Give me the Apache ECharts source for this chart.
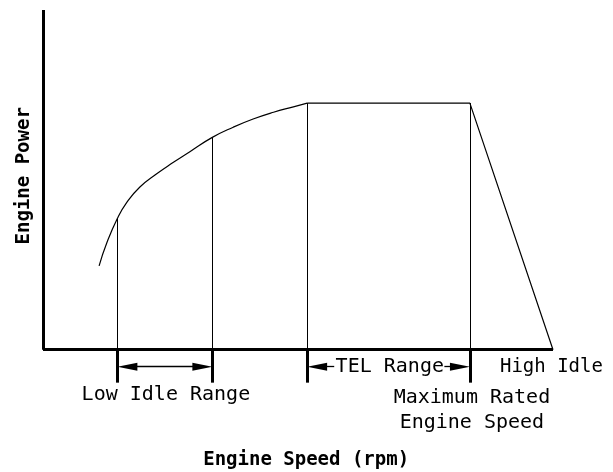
<!DOCTYPE html>
<html>
<head>
<meta charset="utf-8">
<script src="https://cdn.jsdelivr.net/npm/echarts@6/dist/echarts.min.js"></script>
<style>
html,body{margin:0;padding:0;background:#fff;}
#main{width:613px;height:472px;}
</style>
</head>
<body>
<div id="main"></div>
<script>
// power curve (relative units, 0-100 on both axes)
var curveSpeed = [11.0, 12.5, 14.6, 16.4, 19.0, 22.3, 25.5, 28.8, 33.2, 37.3, 41.2, 45.2, 49.1, 51.8];
var curvePower = [24.7, 31.4, 38.7, 43.3, 47.9, 51.8, 55.1, 58.3, 62.5, 65.5, 67.9, 69.9, 71.5, 72.6];
// flat top + governor droop to high idle
var govSpeed = [51.8, 83.7, 100];
var govPower = [72.6, 72.6, 0];
// vertical marker lines
var markSpeeds = [14.6, 33.2, 51.8, 83.7];
var markPower = [38.7, 62.5, 72.6, 72.6];

var chart = echarts.init(document.getElementById('main'));

var txtFont = 'DejaVu Sans Mono';
var tip = 1.95;     // half arrow head, in speed units
var tickLen = 9.7;  // below-axis tick, in power units
var arrowY = -5;

function pairs(xs, ys) {
  return xs.map(function (x, i) { return [x, ys[i]]; });
}

function seg(a, b, style, s0, s1) {
  return [
    { coord: a, symbol: s0 || 'none', lineStyle: style },
    { coord: b, symbol: s1 || 'none' }
  ];
}

var thick = { color: '#000', width: 3, type: 'solid' };
var thin = { color: '#000', width: 1, type: 'solid' };
var arw = { color: '#000', width: 1.3, type: 'solid' };

var lines = [
  seg([0, 0], [0, 100], thick),
  seg([0, 0], [100, 0], thick)
];
markSpeeds.forEach(function (x, i) {
  lines.push(seg([x, markPower[i]], [x, 0], thin));
  lines.push(seg([x, 0], [x, -tickLen], thick));
});
lines.push(seg([markSpeeds[0] + tip, arrowY], [markSpeeds[1] - tip, arrowY], arw, 'triangle', 'triangle'));
lines.push(seg([markSpeeds[2] + 5.3, arrowY], [markSpeeds[2] + tip, arrowY], arw, 'none', 'triangle'));
lines.push(seg([markSpeeds[3] - 5.0, arrowY], [markSpeeds[3] - tip, arrowY], arw, 'none', 'triangle'));

var nameStyle = { fontFamily: txtFont, fontWeight: 'bold', fontSize: 19 };

chart.setOption({
  animation: false,
  grid: { left: 2.2, right: 3.9, top: 3.2, bottom: 0 },
  xAxis: { type: 'value', min: -8, max: 111, show: false },
  yAxis: { type: 'value', min: -36, max: 102, show: false },
  series: [
    {
      type: 'line',
      data: pairs(curveSpeed, curvePower),
      smooth: 0.5,
      symbol: 'none',
      lineStyle: { color: '#000', width: 1.2 }
    },
    {
      type: 'line',
      data: pairs(govSpeed, govPower),
      symbol: 'none',
      lineStyle: { color: '#000', width: 1.2 },
      markLine: {
        silent: true,
        symbolSize: [8, 20],
        label: { show: false },
        itemStyle: { color: '#000' },
        data: lines
      },
      markPoint: {
        silent: true,
        symbol: 'circle',
        symbolSize: 0,
        label: {
          show: true,
          position: 'inside',
          fontFamily: txtFont,
          fontSize: 20,
          color: '#000',
          lineHeight: 25
        },
        data: [
          { coord: [24.1, -13.4], label: { formatter: 'Low Idle Range' } },
          { coord: [68.0, -5], label: { formatter: 'TEL Range' } },
          { coord: [89.6, -5], label: { formatter: 'High Idle', align: 'left', fontSize: 19 } },
          { coord: [84.1, -17.8], label: { formatter: 'Maximum Rated\nEngine Speed' } },
          { coord: [51.6, -32.4], label: Object.assign({ formatter: 'Engine Speed (rpm)' }, nameStyle) },
          { coord: [-3.7, 51.2], label: Object.assign({ formatter: 'Engine Power', rotate: 90 }, nameStyle) }
        ]
      }
    }
  ]
});
</script>
</body>
</html>
